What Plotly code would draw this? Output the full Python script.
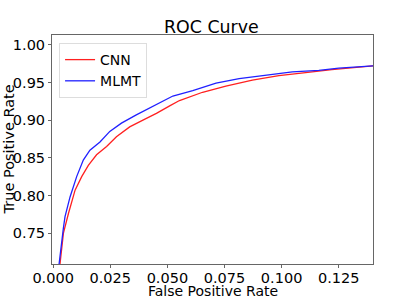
import plotly.graph_objects as go

# Data
cnn_fpr = [0.0030, 0.0045, 0.0067, 0.0096, 0.0125, 0.0154, 0.0190, 0.0234, 0.0277, 0.0335,
           0.0393, 0.0452, 0.0510, 0.0553, 0.0654, 0.0756, 0.0872, 0.0988, 0.1105, 0.1220, 0.1400]
cnn_tpr = [0.709, 0.750, 0.776, 0.807, 0.825, 0.840, 0.854, 0.865, 0.878, 0.891,
           0.900, 0.909, 0.919, 0.926, 0.937, 0.945, 0.953, 0.959, 0.963, 0.967, 0.972]

mlmt_fpr = [0.0026, 0.0035, 0.0045, 0.0052, 0.0074, 0.0103, 0.0132, 0.0161, 0.0205, 0.0248,
            0.0299, 0.0364, 0.0422, 0.0480, 0.0524, 0.0611, 0.0713, 0.0814, 0.0931, 0.1047,
            0.1163, 0.1250, 0.1400]
mlmt_tpr = [0.709, 0.735, 0.757, 0.772, 0.798, 0.825, 0.847, 0.860, 0.871, 0.885,
            0.896, 0.907, 0.916, 0.925, 0.932, 0.939, 0.949, 0.955, 0.960, 0.964,
            0.966, 0.969, 0.972]

x_ticks = [0.0, 0.025, 0.05, 0.075, 0.1, 0.125]
y_ticks = [0.75, 0.80, 0.85, 0.90, 0.95, 1.00]

FONT = "DejaVu Sans, sans-serif"
TXT = 14.5

fig = go.Figure()
fig.add_trace(go.Scatter(x=cnn_fpr, y=cnn_tpr, mode="lines", name="CNN",
                         line=dict(color="#ff2020", width=1.3)))
fig.add_trace(go.Scatter(x=mlmt_fpr, y=mlmt_tpr, mode="lines", name="MLMT",
                         line=dict(color="#2020ff", width=1.3)))

axis_common = dict(showgrid=False, zeroline=False, showline=True, linecolor="#666666",
                   linewidth=1, mirror=True, ticks="outside", ticklen=3, tickcolor="#666666",
                   automargin=False,
                   tickfont=dict(family=FONT, size=TXT, color="black"))

fig.update_layout(
    width=415, height=297,
    margin=dict(l=52, r=42, t=35, b=33),
    paper_bgcolor="white", plot_bgcolor="white",
    xaxis=dict(range=[-0.0005, 0.14], tickvals=x_ticks, tickformat=".3f",
               ticklabelstandoff=-2, **axis_common),
    yaxis=dict(range=[0.709, 1.013], tickvals=y_ticks, tickformat=".2f", **axis_common),
    legend=dict(x=0.022, y=0.965, xanchor="left", yanchor="top",
                bgcolor="rgba(255,255,255,0.8)", bordercolor="#dddddd", borderwidth=1,
                font=dict(family=FONT, size=14, color="black"),
                itemwidth=30, tracegroupgap=0),
    showlegend=True,
    annotations=[
        dict(text="ROC Curve", xref="paper", yref="paper", x=0.498, y=1.035,
             xanchor="center", yanchor="middle", showarrow=False,
             font=dict(family=FONT, size=17.4, color="black")),
        dict(text="False Positive Rate", xref="paper", yref="paper", x=0.5, y=-0.116,
             xanchor="center", yanchor="middle", showarrow=False, height=15, borderpad=0,
             font=dict(family=FONT, size=14, color="black")),
        dict(text="True Positive Rate", xref="paper", yref="paper", x=-0.134, y=0.5,
             xanchor="center", yanchor="middle", showarrow=False, textangle=-90,
             font=dict(family=FONT, size=TXT, color="black")),
    ],
)

# remove the default 8px page margin so the figure fills the window exactly
fig.write_html("out.html", config={"displayModeBar": False},
               post_script="document.body.style.margin='0';document.body.style.overflow='hidden';")
